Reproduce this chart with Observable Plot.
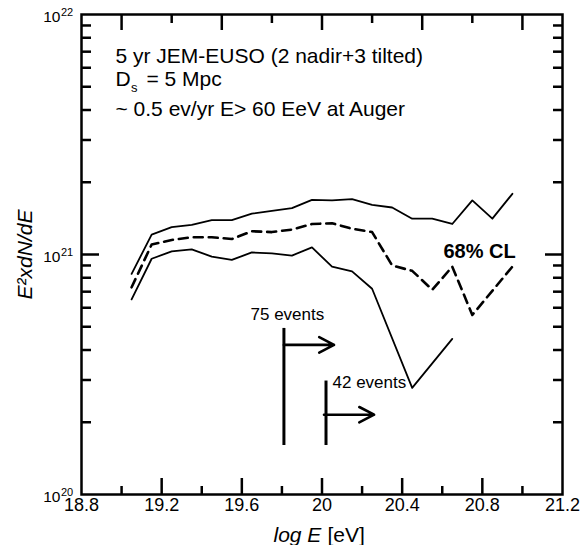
<!DOCTYPE html>
<html><head><meta charset="utf-8">
<script src="https://cdn.jsdelivr.net/npm/d3@7"></script>
<script src="https://cdn.jsdelivr.net/npm/@observablehq/plot@0.6"></script>
<style>
body{margin:0;background:#fff;}
</style></head><body><div id="chart"></div>
<script>
// ---- data ----
const logE = [19.05,19.15,19.25,19.35,19.45,19.55,19.65,19.75,19.85,19.95,20.05,20.15,20.25,20.35,20.45,20.55,20.65,20.75,20.85,20.95];
const upper = [8.3e20,1.21e21,1.30e21,1.33e21,1.39e21,1.39e21,1.48e21,1.52e21,1.56e21,1.69e21,1.68e21,1.70e21,1.61e21,1.57e21,1.41e21,1.41e21,1.34e21,1.68e21,1.41e21,1.79e21];
const central = [7.3e20,1.10e21,1.15e21,1.18e21,1.18e21,1.16e21,1.25e21,1.24e21,1.27e21,1.34e21,1.35e21,1.28e21,1.24e21,9.0e20,8.55e20,7.13e20,8.9e20,5.6e20,null,8.9e20];
const lower = [6.5e20,9.6e20,1.03e21,1.05e21,9.8e20,9.5e20,1.02e21,1.01e21,9.9e20,1.07e21,8.9e20,8.5e20,7.2e20,null,2.78e20,null,4.45e20,null,null,null];

const eventLabels = ["75 events","42 events"];
const eventThreshold = [19.81, 20.02];
const eventTop = [4.92e20, 2.97e20];
const eventBottom = [1.6e20, 1.6e20];
const arrowY = [4.2e20, 2.15e20];
const arrowStart = [19.81, 20.01];
const arrowEnd = [20.06, 20.26];

const xTickLabels = [18.8,19.2,19.6,20,20.4,20.8,21.2];
const xMajorTicks = [19.2,19.6,20.0,20.4,20.8];
const xMinorTicks = [19.0,19.4,19.8,20.2,20.6,21.0];
const topLongTicks = [19.0,19.5,20.0,20.5,21.0];
const topShortTicks = [19.25,19.75,20.25,20.75];
const yDecades = [1e20,1e21,1e22];
const yExponents = ["20","21","22"];
const yMinorTicks = [2e20,3e20,4e20,5e20,6e20,7e20,8e20,9e20,2e21,3e21,4e21,5e21,6e21,7e21,8e21,9e21];

const infoLines = ["5 yr JEM-EUSO (2 nadir+3 tilted)", "~ 0.5 ev/yr E> 60 EeV at Auger"];

// ---- tables ----
const rows = (vals) => logE.map((x,i)=>({x, y: vals[i]})).filter(d => d.y != null);
const events = eventLabels.map((label,i)=>({label, x: eventThreshold[i], y1: eventBottom[i], y2: eventTop[i], ay: arrowY[i], ax1: arrowStart[i], ax2: arrowEnd[i]}));

const W = 586, H = 545, mL = 81, mR = 24, mT = 14, mB = 51;
const fw = W - mL - mR, fh = H - mT - mB;
const font = "'Liberation Sans', Arial, sans-serif";
const K = "black";

const chart = Plot.plot({
  width: W, height: H,
  marginLeft: mL, marginRight: mR, marginTop: mT, marginBottom: mB,
  style: {fontFamily: font, background: "white", color: "black"},
  x: {domain: [18.8, 21.2], axis: null},
  y: {type: "log", domain: [1e20, 1e22], axis: null},
  marks: [
    // curves
    Plot.line(rows(upper), {x: "x", y: "y", stroke: K, strokeWidth: 1.8}),
    Plot.line(rows(lower), {x: "x", y: "y", stroke: K, strokeWidth: 1.8}),
    Plot.line(rows(central), {x: "x", y: "y", stroke: K, strokeWidth: 2.6, strokeDasharray: "9,6"}),
    // event thresholds
    Plot.ruleX(events, {x: "x", y1: "y1", y2: "y2", stroke: K, strokeWidth: 3}),
    Plot.arrow(events, {x1: "ax1", x2: "ax2", y1: "ay", y2: "ay", stroke: K, strokeWidth: 2.6, headLength: 11, headAngle: 55}),
    Plot.text(events.slice(0,1), {frameAnchor: "top-left", text: "label", dx: 169, dy: 305, lineAnchor: "bottom", textAnchor: "start", fontSize: 17, fill: K}),
    Plot.text(events.slice(1,2), {frameAnchor: "top-left", text: "label", dx: 251, dy: 373, lineAnchor: "bottom", textAnchor: "start", fontSize: 17, fill: K}),
    // frame & ticks
    Plot.frame({stroke: K, strokeWidth: 2.5}),
    Plot.tickX(xMajorTicks, {x: d => d, insetTop: fh - 16, stroke: K, strokeWidth: 2.5}),
    Plot.tickX(xMinorTicks, {x: d => d, insetTop: fh - 8, stroke: K, strokeWidth: 2.5}),
    Plot.tickX(topLongTicks, {x: d => d, insetBottom: fh - 16, stroke: K, strokeWidth: 2.5}),
    Plot.tickX(topShortTicks, {x: d => d, insetBottom: fh - 9, stroke: K, strokeWidth: 2.5}),
    Plot.tickY(yDecades.slice(1,2), {y: d => d, insetRight: fw - 18, stroke: K, strokeWidth: 2.5}),
    Plot.tickY(yMinorTicks, {y: d => d, insetRight: fw - 10, stroke: K, strokeWidth: 2.5}),
    Plot.tickY(yDecades.slice(1,2), {y: d => d, insetLeft: fw - 17, stroke: K, strokeWidth: 2.5}),
    Plot.tickY(yMinorTicks, {y: d => d, insetLeft: fw - 9, stroke: K, strokeWidth: 2.5}),
    // tick labels
    Plot.text(xTickLabels, {x: d => d, frameAnchor: "bottom", text: d => String(d), dy: 16, lineAnchor: "bottom", fontSize: 18, fill: K}),
    Plot.text(yDecades, {y: d => d, frameAnchor: "left", text: () => "10", textAnchor: "end", dx: -21, dy: 7, lineAnchor: "bottom", fontSize: 15.5, fill: K}),
    Plot.text(yDecades, {y: d => d, frameAnchor: "left", text: (d,i) => yExponents[i], textAnchor: "start", dx: -20.5, dy: 1, lineAnchor: "bottom", fontSize: 11, fill: K}),
    // axis labels
    Plot.text(["log E"], {frameAnchor: "bottom-left", dx: 192, dy: 47, textAnchor: "start", lineAnchor: "bottom", fontSize: 21, fontStyle: "italic", fill: K}),
    Plot.text(["[eV]"], {frameAnchor: "bottom-left", dx: 246, dy: 47, textAnchor: "start", lineAnchor: "bottom", fontSize: 21, fill: K}),
    Plot.text(["E\u00B2xdN/dE"], {frameAnchor: "left", dx: -56, rotate: -90, lineAnchor: "middle", textAnchor: "middle", fontSize: 21, fontStyle: "italic", fill: K}),
    // info text
    Plot.text(infoLines.slice(0,1), {frameAnchor: "top-left", dx: 34, dy: 48, textAnchor: "start", lineAnchor: "bottom", fontSize: 21, fill: K}),
    Plot.text(["D"], {frameAnchor: "top-left", dx: 34, dy: 71, textAnchor: "start", lineAnchor: "bottom", fontSize: 21, fill: K}),
    Plot.text(["s"], {frameAnchor: "top-left", dx: 49.5, dy: 77, textAnchor: "start", lineAnchor: "bottom", fontSize: 13, fill: K}),
    Plot.text(["= 5 Mpc"], {frameAnchor: "top-left", dx: 65, dy: 71, textAnchor: "start", lineAnchor: "bottom", fontSize: 21, fill: K}),
    Plot.text(infoLines.slice(1,2), {frameAnchor: "top-left", dx: 34, dy: 101, textAnchor: "start", lineAnchor: "bottom", fontSize: 21, fill: K}),
    Plot.text(["68% CL"], {frameAnchor: "top-left", dx: 362, dy: 243, textAnchor: "start", lineAnchor: "bottom", fontSize: 20, fontWeight: "bold", fill: K})
  ]
});
document.getElementById("chart").appendChild(chart);
</script>
</body></html>
